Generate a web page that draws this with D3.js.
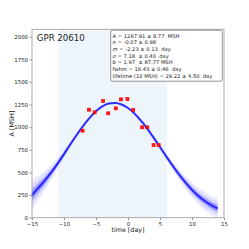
<!DOCTYPE html>
<html>
<head>
<meta charset="utf-8">
<script src="https://cdn.jsdelivr.net/npm/d3@7"></script>
<style>
    body { margin: 0; background: #fff; }
    text { font-family: "DejaVu Sans", sans-serif; fill: #222; }
    .fit text { white-space: pre; }
</style>
</head>
<body>
<svg id="chart" width="249" height="249"></svg>
<script>
var obsTime = [ -7.1, -6.1, -5.2, -3.9, -3.1, -1.9, -1.1, -0.1, 0.8, 2.2, 3.0, 4.0, 4.8 ];
var obsArea = [ 961, 1193, 1165, 1290, 1154, 1209, 1308, 1312, 1190, 999, 999, 803, 803 ];

// fitted curve and the spread of the sampled curves around it
var curveTime = [ -15, -14, -13, -12, -11, -10, -9, -8, -7, -6, -5, -4, -3, -2, -1,
                  0, 1, 2, 3, 4, 5, 6, 7, 8, 9, 10, 11, 12, 13, 14 ];
var curveArea = [ 250, 330, 410, 500, 598, 703, 812, 917, 1015, 1103, 1177, 1231, 1262, 1268, 1251,
                  1212, 1152, 1074, 985, 885, 780, 675, 572, 475, 388, 308, 240, 184, 138, 102 ];
var spreadOuter = [ 170, 140, 112, 86, 62, 46, 35, 28, 22, 18, 15, 12, 10, 10, 10,
                    12, 14, 17, 20, 25, 30, 38, 48, 60, 72, 84, 94, 104, 110, 115 ];
var spreadInner = [ 60, 50, 40, 31, 23, 17, 13, 10, 8, 7, 6, 5, 5, 5, 5,
                    5, 6, 7, 8, 10, 12, 15, 19, 23, 27, 31, 34, 36, 38, 40 ];

var activeSpan = [ -10.9, 6.05 ];
var xTicks = [ -15, -10, -5, 0, 5, 10, 15 ];
var yTicks = [ 0, 250, 500, 750, 1000, 1250, 1500, 1750, 2000 ];

var fitSymbols = [ 'A', 'n', 'm', 'σ', 'b', 'fwhm', 'lifetime (10 MSH)' ];
var fitItalic = [ true, true, true, true, true, false, false ];
var fitValues = [ ' = 1267.91 ± 8.77  MSH', ' = -0.07 ± 0.98', ' = -2.23 ± 0.13  day', ' = 7.18  ± 0.40  day',
                  ' = 1.97  ± 87.77 MSH', ' = 16.43 ± 0.46  day', ' = 29.22 ± 4.50  day' ];

var margin = { top: 29.3, right: 25, bottom: 31.3, left: 32 },
    width = 249 - margin.left - margin.right,
    height = 249 - margin.top - margin.bottom;

var svg = d3.select( '#chart' );
var g = svg.append( 'g' )
    .attr( 'transform', 'translate(' + margin.left + ',' + margin.top + ')' );

var x = d3.scaleLinear().domain( [ -15, 15 ] ).range( [ 0, width ] );
var y = d3.scaleLinear().domain( [ 0, 2082 ] ).range( [ height, 0 ] );

// shaded active period
g.append( 'rect' )
    .attr( 'x', x( activeSpan[0] ) )
    .attr( 'y', 0 )
    .attr( 'width', x( activeSpan[1] ) - x( activeSpan[0] ) )
    .attr( 'height', height )
    .attr( 'fill', '#eef5fa' );

var idx = d3.range( curveTime.length );

function band( spread, k ) {
    return d3.area()
        .x( function ( i ) { return x( curveTime[i] ); } )
        .y0( function ( i ) { return y( curveArea[i] - spread[i] * k ); } )
        .y1( function ( i ) { return y( curveArea[i] + spread[i] * k ); } )
        .curve( d3.curveMonotoneX );
}

// layered faint bands
[ 1, 0.7, 0.45 ].forEach( function ( k ) {
    g.append( 'path' )
        .datum( idx )
        .attr( 'd', band( spreadOuter, k ) )
        .attr( 'fill', 'blue' )
        .attr( 'fill-opacity', 0.07 );
} );
[ 1, 0.5 ].forEach( function ( k ) {
    g.append( 'path' )
        .datum( idx )
        .attr( 'd', band( spreadInner, k ) )
        .attr( 'fill', 'blue' )
        .attr( 'fill-opacity', 0.2 );
} );

var line = d3.line()
    .x( function ( i ) { return x( curveTime[i] ); } )
    .y( function ( i ) { return y( curveArea[i] ); } )
    .curve( d3.curveMonotoneX );

g.append( 'path' )
    .datum( idx )
    .attr( 'd', line )
    .attr( 'fill', 'none' )
    .attr( 'stroke', '#1a1aff' )
    .attr( 'stroke-opacity', 0.85 )
    .attr( 'stroke-width', 2 );

// observations
var sq = 3.8;
g.selectAll( '.obs' )
    .data( obsTime )
    .enter()
    .append( 'rect' )
    .attr( 'class', 'obs' )
    .attr( 'x', function ( d ) { return x( d ) - sq / 2; } )
    .attr( 'y', function ( d, i ) { return y( obsArea[i] ) - sq / 2; } )
    .attr( 'width', sq )
    .attr( 'height', sq )
    .attr( 'fill', '#ff0000' )
    .attr( 'fill-opacity', 0.9 );

// axes
var xAxis = g.append( 'g' )
    .attr( 'transform', 'translate(0,' + height + ')' )
    .call( d3.axisBottom( x ).tickValues( xTicks ).tickSize( 2.5 ).tickPadding( 1.5 ).tickFormat( d3.format( '' ) ) );
var yAxis = g.append( 'g' )
    .call( d3.axisLeft( y ).tickValues( yTicks ).tickSize( 2.5 ).tickPadding( 1.5 ) );

[ xAxis, yAxis ].forEach( function ( a ) {
    a.select( '.domain' ).remove();
    a.selectAll( '.tick line' ).attr( 'stroke', '#555' ).attr( 'stroke-width', 0.6 );
    a.selectAll( '.tick text' ).attr( 'font-size', 5.4 ).attr( 'fill', '#222' )
        .text( function ( d ) { return String( d ).replace( '-', '\u2212' ); } );
} );

// frame
g.append( 'rect' )
    .attr( 'width', width )
    .attr( 'height', height )
    .attr( 'fill', 'none' )
    .attr( 'stroke', '#999' )
    .attr( 'stroke-width', 0.8 );

g.append( 'text' )
    .attr( 'x', 4.8 )
    .attr( 'y', 11.4 )
    .attr( 'font-size', 8.6 )
    .text( 'GPR 20610' );

// fit box
var fit = g.append( 'g' ).attr( 'class', 'fit' );
fit.append( 'rect' )
    .attr( 'x', 78.7 )
    .attr( 'y', 0.9 )
    .attr( 'width', 111.6 )
    .attr( 'height', 51 )
    .attr( 'rx', 2 )
    .attr( 'fill', '#fff' )
    .attr( 'stroke', '#666' )
    .attr( 'stroke-width', 0.7 );
fitSymbols.forEach( function ( s, i ) {
    var t = fit.append( 'text' )
        .attr( 'x', 80.6 )
        .attr( 'y', 8.4 + i * 6.67 )
        .attr( 'font-size', 5.2 );
    t.append( 'tspan' )
        .attr( 'font-style', fitItalic[i] ? 'italic' : 'normal' )
        .text( s );
    t.append( 'tspan' ).text( fitValues[i] );
} );

svg.append( 'text' )
    .attr( 'x', margin.left + width / 2 )
    .attr( 'y', 232 )
    .attr( 'text-anchor', 'middle' )
    .attr( 'font-size', 6.4 )
    .text( 'time [day]' );

svg.append( 'text' )
    .attr( 'transform', 'translate(13.5,' + ( margin.top + height / 2 ) + ') rotate(-90)' )
    .attr( 'text-anchor', 'middle' )
    .attr( 'font-size', 6.4 )
    .text( 'A [MSH]' );
</script>
</body>
</html>
